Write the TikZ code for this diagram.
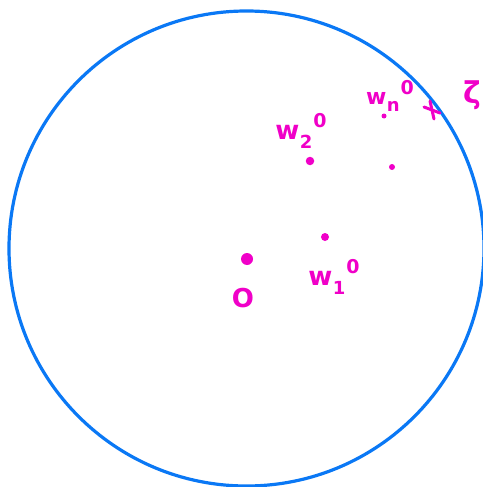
\documentclass[tikz,border=0pt]{standalone}
\usepackage{fontspec}
\setmainfont{DejaVu Sans}
\definecolor{pen}{RGB}{240,0,200}
\definecolor{disc}{RGB}{10,120,245}
\newcommand{\wlab}[2]{w\hspace{0.5pt}\raisebox{-0.35em}{\fontsize{18}{19}\selectfont #1}\hspace{1pt}\raisebox{0.45em}{\fontsize{19}{20}\selectfont #2}}
\tikzset{
  lbl/.style={text=pen, font=\bfseries\fontsize{26}{28}\selectfont, inner sep=0pt},
  pt/.style={fill=pen, draw=none, circle, inner sep=0pt},
}
\begin{document}
\begin{tikzpicture}[x=1pt,y=-1pt]
\useasboundingbox (0,0) rectangle (482,487);
\node[draw=disc, line width=3.2pt, circle, minimum size=475pt, inner sep=0pt] (D) at (246.5,248.5) {};
\node[pt, minimum size=12pt] (O) at (247,259) {};
\node[lbl] (Ol) at (243,298) {O};
\node[pt, minimum size=8pt] (w1) at (325,237) {};
\node[lbl] (w1l) at (334,277) {\wlab{1}{0}};
\node[pt, minimum size=8.5pt] (w2) at (310,161) {};
\node[lbl] (w2l) at (301,131) {\wlab{2}{0}};
\node[pt, minimum size=6pt] (wn) at (392,167) {};
\node[pt, minimum size=5pt] (wd) at (384,116) {};
\node[lbl, font=\bfseries\fontsize{22}{24}\selectfont] (wnl) at (390,96) {\wlab{n}{0}};
\coordinate (x) at (432,110);
\draw[pen, line width=3pt, line cap=round] ([shift={(-8,-3)}]x) -- ([shift={(8,3)}]x);
\draw[pen, line width=3pt, line cap=round] ([shift={(-2,-9)}]x) -- ([shift={(2,9)}]x);
\node[lbl, font=\bfseries\fontsize{30}{32}\selectfont] (z) at (472,95) {ζ};
\end{tikzpicture}
\end{document}
